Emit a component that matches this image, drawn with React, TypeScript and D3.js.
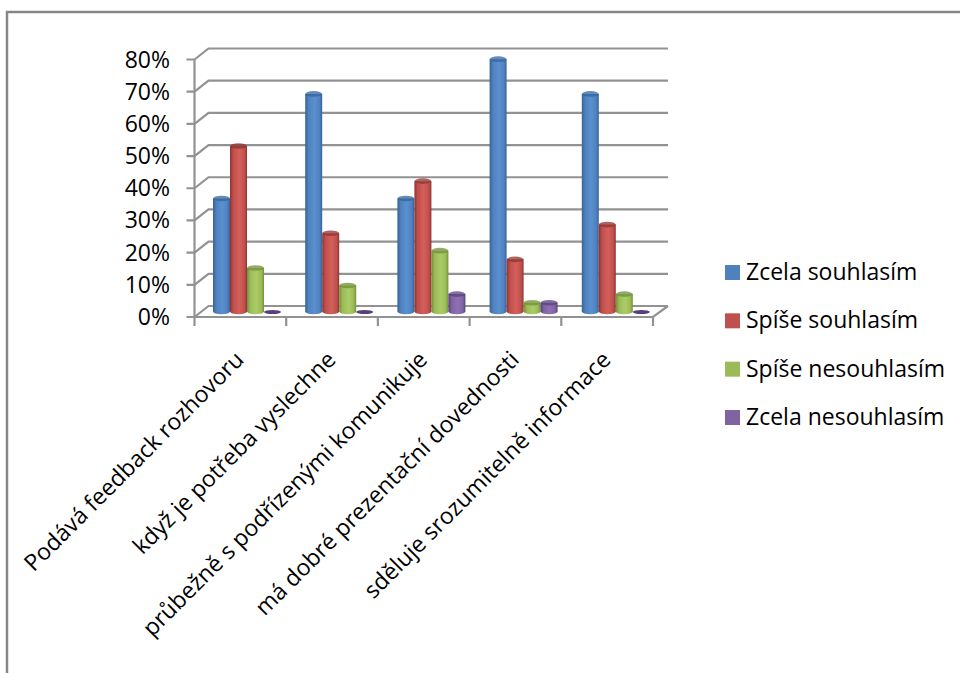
import React from "react";
import * as d3 from "d3";

const categories = [
  "Podává feedback rozhovoru",
  "když je potřeba vyslechne",
  "průbežně s podřízenými komunikuje",
  "má dobré prezentační dovednosti",
  "sděluje srozumitelně informace",
];
const seriesNames = ["Zcela souhlasím", "Spíše souhlasím", "Spíše nesouhlasím", "Zcela nesouhlasím"];
const zcelaSouhlasim = [35.1, 67.6, 35.1, 78.4, 67.6];
const spiseSouhlasim = [51.4, 24.3, 40.5, 16.2, 27.0];
const spiseNesouhlasim = [13.5, 8.1, 18.9, 2.7, 5.4];
const zcelaNesouhlasim = [0, 0, 5.4, 2.7, 0];
const seriesValues = [zcelaSouhlasim, spiseSouhlasim, spiseNesouhlasim, zcelaNesouhlasim];
const tickValues = [0, 10, 20, 30, 40, 50, 60, 70, 80];
const seriesColors = ["#4f81bd", "#c0504d", "#9bbb59", "#8064a2"];
const seriesDark = ["#33639c", "#8f3330", "#728f38", "#58407c"];
const seriesLight = ["#5a90d0", "#d45f5b", "#abcc66", "#8e70b4"];

const FONT = "'Open Sans', sans-serif";
const GRID = "#929292";

export default function App() {
  const yFront = d3.scaleLinear().domain([0, 80]).range([317, 59.5]);
  const depthX = 14;
  const depthY = -11;
  const xAxis = d3.scaleLinear().domain([0, categories.length]).range([194.5, 653]);
  const group = d3.scaleBand<string>().domain(categories).range([213, 213 + 92.2 * 5]);
  const member = d3.scaleBand<string>().domain(seriesNames).range([0, 68]);
  const barY = d3.scaleLinear().domain([0, 80]).range([311.5, 54]);
  const ry = 2.8;
  const x0 = xAxis(0);
  const x1 = xAxis(categories.length);

  return (
    <svg
      width={960}
      height={673}
      style={{ position: "absolute", left: 0, top: 0, display: "block", background: "#fff" }}
    >
      <defs>
        {seriesColors.map((c, i) => (
          <linearGradient key={c} id={`bar-${i}`} x1="0" x2="1" y1="0" y2="0">
            <stop offset="0" stopColor={seriesDark[i]} />
            <stop offset="0.2" stopColor={c} />
            <stop offset="0.55" stopColor={seriesLight[i]} />
            <stop offset="0.85" stopColor={c} />
            <stop offset="1" stopColor={seriesDark[i]} />
          </linearGradient>
        ))}
      </defs>

      {/* chart frame: only the top and left edges fall inside the canvas */}
      <path d="M7 673V12H960" fill="none" stroke="#868686" strokeWidth={2.5} />

      {/* back wall, side wall and floor */}
      <g fill="none" stroke={GRID} strokeWidth={2.2}>
        {tickValues.map((t) => (
          <path
            key={t}
            d={`M${x0 - 8} ${yFront(t)}H${x0}L${x0 + depthX} ${yFront(t) + depthY}H${x1 + depthX + 1}`}
          />
        ))}
        <path d={`M${x0} ${yFront(80)}V${yFront(0) + 9}`} />
        <path d={`M${x0} ${yFront(0)}H${x1}L${x1 + depthX + 1} ${yFront(0) + depthY}`} />
        {d3.range(1, categories.length + 1).map((i) => (
          <path key={i} d={`M${xAxis(i)} ${yFront(0)}v9`} />
        ))}
      </g>

      {/* cylinder bars */}
      {categories.map((cat, ci) =>
        seriesNames.map((name, si) => {
          const v = seriesValues[si][ci];
          const w = member.bandwidth();
          const left = (group(cat) ?? 0) + (member(name) ?? 0);
          const rx = w / 2;
          const cx = left + rx;
          const top = barY(v);
          const bottom = barY(0);
          if (v === 0) {
            return (
              <ellipse key={name} cx={cx} cy={bottom + 0.5} rx={rx} ry={2} fill={seriesDark[si]} />
            );
          }
          return (
            <g key={name}>
              <path
                d={`M${left} ${top}V${bottom}A${rx} ${ry} 0 0 0 ${left + w} ${bottom}V${top}Z`}
                fill={`url(#bar-${si})`}
              />
              <ellipse cx={cx} cy={top} rx={rx} ry={ry} fill={seriesDark[si]} opacity={0.75} />
            </g>
          );
        })
      )}

      {/* value axis labels */}
      <g fontFamily={FONT} fontSize={23} fill="#000" textAnchor="end">
        {tickValues.map((t) => (
          <text key={t} x={170} y={yFront(t) + 8}>
            {t}%
          </text>
        ))}
      </g>

      {/* category labels */}
      <g fontFamily={FONT} fontSize={23} fill="#000" textAnchor="end">
        {categories.map((cat, i) => {
          const ax = xAxis(i + 0.5) + 5;
          const ay = 361;
          return (
            <text key={cat} transform={`translate(${ax},${ay}) rotate(-45)`}>
              {cat}
            </text>
          );
        })}
      </g>

      {/* legend */}
      <g fontFamily={FONT} fontSize={23} fill="#000">
        {seriesNames.map((name, i) => {
          const y = d3.scaleLinear().domain([0, 3]).range([265, 410])(i);
          return (
            <g key={name}>
              <rect x={725} y={y} width={15} height={15} fill={seriesColors[i]} />
              <text x={746} y={y + 15}>
                {name}
              </text>
            </g>
          );
        })}
      </g>
    </svg>
  );
}
